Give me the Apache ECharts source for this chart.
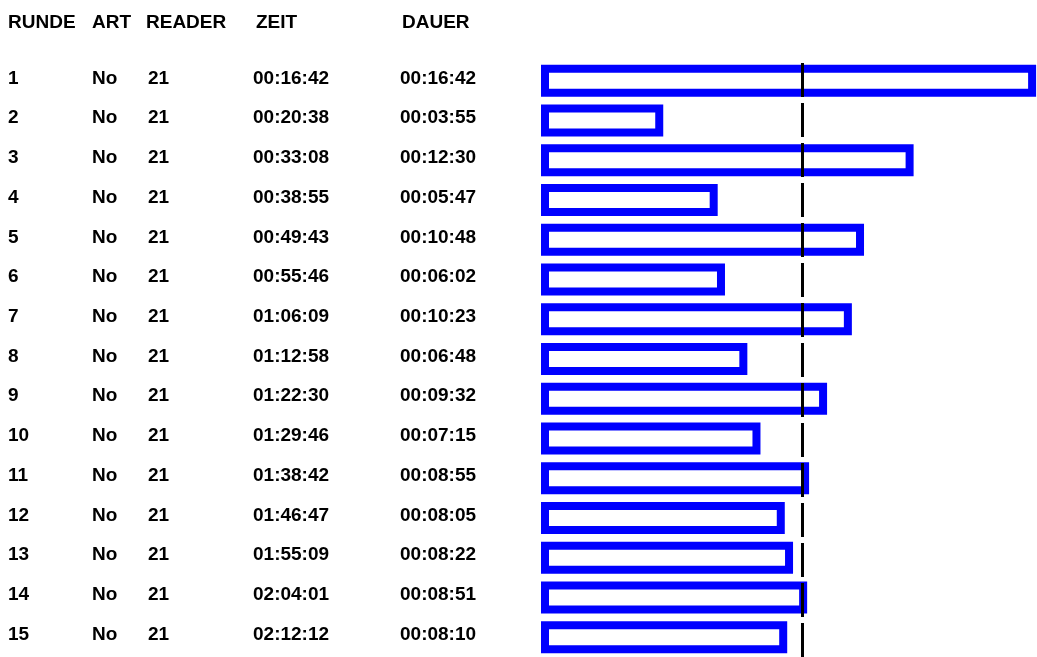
<!DOCTYPE html>
<html>
<head>
<meta charset="utf-8">
<title>Runden</title>
<script src="https://cdn.jsdelivr.net/npm/echarts@6/dist/echarts.min.js"></script>
<style>
  html, body { margin: 0; padding: 0; background: #fff; }
  #chart { width: 1037px; height: 657px; }
</style>
</head>
<body>
<div id="chart"></div>
<script>
// table columns
const headers = ['RUNDE', 'ART', 'READER', 'ZEIT', 'DAUER']
const runden = ['1', '2', '3', '4', '5', '6', '7', '8', '9', '10', '11', '12', '13', '14', '15']
const art = ['No', 'No', 'No', 'No', 'No', 'No', 'No', 'No', 'No', 'No', 'No', 'No', 'No', 'No', 'No']
const reader = ['21', '21', '21', '21', '21', '21', '21', '21', '21', '21', '21', '21', '21', '21', '21']
const zeit = ['00:16:42', '00:20:38', '00:33:08', '00:38:55', '00:49:43', '00:55:46', '01:06:09', '01:12:58',
  '01:22:30', '01:29:46', '01:38:42', '01:46:47', '01:55:09', '02:04:01', '02:12:12']
const dauer = ['00:16:42', '00:03:55', '00:12:30', '00:05:47', '00:10:48', '00:06:02', '00:10:23', '00:06:48',
  '00:09:32', '00:07:15', '00:08:55', '00:08:05', '00:08:22', '00:08:51', '00:08:10']

const toSeconds = (s) => s.split(':').reduce((acc, p) => acc * 60 + Number(p), 0)
const dauerSec = dauer.map(toSeconds)
const avgSec = dauerSec.reduce((a, b) => a + b, 0) / dauerSec.length

const font = { fontFamily: 'Liberation Sans, Arial, sans-serif', fontWeight: 'bold', fontSize: 19, color: '#000' }

const chart = echarts.init(document.getElementById('chart'))

// outlined bar, stroke centred on the value edges
const renderBar = (params, api) => {
  const start = api.coord([0, api.value(1)])
  const end = api.coord([api.value(0), api.value(1)])
  const h = 24
  return {
    type: 'rect',
    shape: { x: start[0], y: start[1] - h / 2, width: end[0] - start[0], height: h },
    style: { fill: null, stroke: '#0000ff', lineWidth: 8 },
    z2: 10,
  }
}

chart.setOption({
  animation: false,
  title: {
    left: 8,
    top: 13,
    padding: 0,
    text: `{a|${headers[0]}}{b|${headers[1]}}{c|${headers[2]}}{d|${headers[3]}}{e|${headers[4]}}`,
    textStyle: {
      rich: {
        a: { ...font, width: 84 },
        b: { ...font, width: 54 },
        c: { ...font, width: 110 },
        d: { ...font, width: 146 },
        e: { ...font },
      },
    },
  },
  grid: { left: 545, top: 61, height: 600, width: 491 },
  xAxis: {
    type: 'value',
    min: 0,
    max: 1010,
    show: false,
  },
  yAxis: {
    type: 'category',
    inverse: true,
    data: runden,
    axisLine: { show: false },
    axisTick: { show: false },
    splitLine: { show: false },
    axisLabel: {
      align: 'left',
      margin: 537,
      padding: [0, 0, 5, 0],
      formatter: (value, i) =>
        `{a|${value}}{b|${art[i]}}{c|${reader[i]}}{d|${zeit[i]}}{e|${dauer[i]}}`,
      rich: {
        a: { ...font, width: 84 },
        b: { ...font, width: 56 },
        c: { ...font, width: 105 },
        d: { ...font, width: 147 },
        e: { ...font },
      },
    },
  },
  series: [
    {
      type: 'custom',
      renderItem: renderBar,
      encode: { x: 0, y: 1 },
      data: dauerSec.map((v, i) => [v, i]),
      z: 3,
    },
    {
      type: 'line',
      data: [],
      z: 1,
      markLine: {
        silent: true,
        symbol: 'none',
        label: { show: false },
        lineStyle: { color: '#000', width: 3, type: [34, 6], dashOffset: 38 },
        data: [{ xAxis: avgSec }],
      },
    },
  ],
})
</script>
</body>
</html>
